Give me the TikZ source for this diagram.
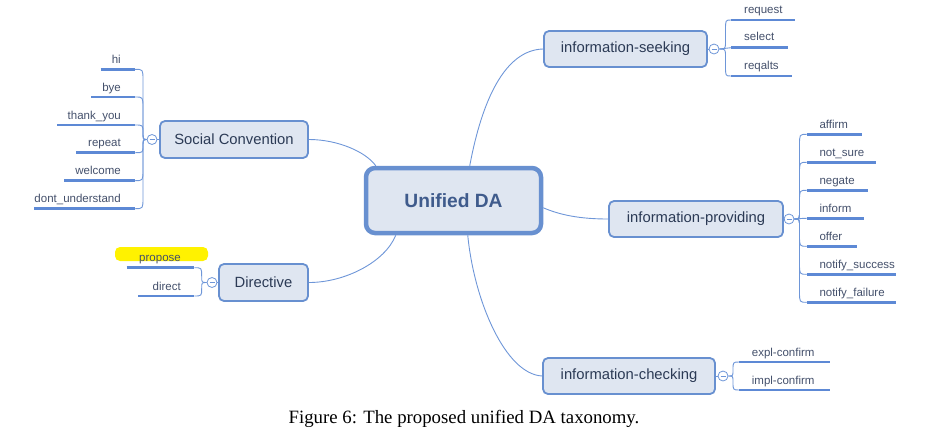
\documentclass[tikz,border=0pt]{standalone}
\usepackage{fontspec}
\setmainfont{Liberation Sans}
\newfontfamily\capfont{Liberation Serif}
\usetikzlibrary{calc}
\definecolor{boxf}{HTML}{DFE6F1}
\definecolor{boxc}{HTML}{6890D0}
\definecolor{boxt}{HTML}{2B3A55}
\definecolor{cent}{HTML}{3F5B8C}
\definecolor{edgec}{HTML}{6E96D8}
\definecolor{leafc}{HTML}{5D89D5}
\definecolor{leaft}{HTML}{44506B}
\definecolor{hlc}{HTML}{FFF200}
% bracket connector: #1 start, #2 x of vertical part, #3 y of start, #4 end, #5 y of end, #6 r1, #7 r2
\newcommand\mybrk[7]{%
  \pgfmathsetmacro\bdy{#5-#3}%
  \pgfmathtruncatemacro\bnear{abs(\bdy)<6}%
  \ifnum\bnear=1
    \draw[br] (#1) .. controls (#2,#3) and (#2,#5) .. (#4);
  \else
    \pgfmathsetmacro\bs{min(1,abs(\bdy)/(#6+#7))}%
    \pgfmathsetmacro\bya{#3+#6*\bs*sign(\bdy)}%
    \pgfmathsetmacro\byb{#5-#7*\bs*sign(\bdy)}%
    \draw[br] (#1) .. controls (#2,#3) .. (#2,\bya) -- (#2,\byb) .. controls (#2,#5) .. (#4);
  \fi}
\begin{document}
\begin{tikzpicture}[x=1pt,y=-1pt,
  box/.style={draw=boxc, fill=boxf, line width=1.8pt, rounded corners=5pt, text=boxt,
    font=\fontsize{14.8}{17}\selectfont, inner sep=0pt},
  central/.style={box, line width=4.5pt, rounded corners=9pt, text=cent,
    font=\bfseries\fontsize{19.2}{22}\selectfont},
  col/.style={circle, draw=edgec, fill=white, line width=0.8pt, minimum size=10pt, inner sep=0pt,
    path picture={\draw[edgec, line width=0.7pt] ([xshift=-2.5pt]path picture bounding box.center) -- ([xshift=2.5pt]path picture bounding box.center);}},
  lt/.style={text=leaft, font=\fontsize{11.5}{13}\selectfont, inner sep=0pt},
  ul/.style={draw=leafc, line width=2.6pt},
  edge/.style={draw=edgec, line width=0.9pt},
  br/.style={draw=edgec, line width=0.9pt},
  hl/.style={fill=hlc, rounded corners=5pt, inner sep=0pt}
]
\useasboundingbox (0,0) rectangle (948,440);

% main boxes
\node[central, minimum width=175, minimum height=65] (cen) at (453.5,200.5) {Unified DA};
\node[box, minimum width=148, minimum height=37] (soc) at (234,139.5) {Social Convention};
\node[box, minimum width=163, minimum height=36] (seek) at (625.5,49) {information-seeking};
\node[box, minimum width=174, minimum height=36] (prov) at (696,219) {information-providing};
\node[box, minimum width=172, minimum height=36] (chk) at (629,376) {information-checking};
\node[box, minimum width=89, minimum height=37] (dir) at (263.5,282.5) {Directive};

% main connectors
\coordinate (cenSoc) at ($(cen.north west)+(12,0)$);
\coordinate (cenSeek) at ($(cen.north west)+(106,0)$);
\coordinate (cenProv) at ($(cen.north east)+(0,42)$);
\coordinate (cenChk) at ($(cen.south west)+(104,0)$);
\coordinate (cenDir) at ($(cen.south west)+(32,0)$);
\draw[edge] (soc.east) .. controls (338,139.5) and (366,152) .. (cenSoc);
\draw[edge] (cenSeek) .. controls (482,100) and (505,50) .. (seek.west);
\draw[edge] (cenProv) .. controls (560,215) and (580,219) .. (prov.west);
\draw[edge] (cenChk) .. controls (474,300) and (505,374) .. (chk.west);
\draw[edge] (dir.east) .. controls (345,282.5) and (385,262) .. (cenDir);

% collapse circles
\node[col] (cs) at (152,139.5) {};
\node[col] (cq) at (714,49) {};
\node[col] (cp) at (789,219) {};
\node[col] (cc) at (723,376) {};
\node[col] (cd) at (212,282.5) {};
\draw[edge] (soc.west) -- (cs.east);
\draw[edge] (seek.east) -- (cq.west);
\draw[edge] (prov.east) -- (cp.west);
\draw[edge] (chk.east) -- (cc.west);
\draw[edge] (dir.west) -- (cd.east);

% social convention leaves
\foreach \t/\lx/\ly [count=\i] in {hi/100.7/69.3, bye/91/97, thank\_you/57/125, repeat/76/152.7, welcome/64/180.7, dont\_understand/34/208.7}{
  \node[lt, anchor=base east] (s\i) at (121,\ly-6) {\t};
  \coordinate (s\i e) at (135,\ly);
  \coordinate (s\i w) at (\lx,\ly);
  \draw[ul] (s\i w) -- (s\i e);
  \mybrk{cs.west}{143}{139.5}{s\i e}{\ly}{9}{11}
}

% information-seeking leaves
\foreach \t/\rx/\ly [count=\i] in {request/795/20, select/788/47.7, reqalts/791.7/76}{
  \node[lt, anchor=base west] (q\i) at (744,\ly-7) {\t};
  \coordinate (q\i w) at (731,\ly);
  \coordinate (q\i e) at (\rx,\ly);
  \draw[ul] (q\i w) -- (q\i e);
  \mybrk{cq.east}{725.5}{49}{q\i w}{\ly}{8}{10}
}

% information-providing leaves
\foreach \t/\rx/\ly [count=\i] in {affirm/862/134.3, not\_sure/876/162.3, negate/867.7/190.3, inform/864/218.3, offer/857/246.3, notify\_success/896/274.3, notify\_failure/896/302.3}{
  \node[lt, anchor=base west] (p\i) at (819.3,\ly-6) {\t};
  \coordinate (p\i w) at (806.7,\ly);
  \coordinate (p\i e) at (\rx,\ly);
  \draw[ul] (p\i w) -- (p\i e);
  \mybrk{cp.east}{799.5}{219}{p\i w}{\ly}{8}{11}
}

% information-checking leaves
\foreach \t/\rx/\ly [count=\i] in {expl-confirm/830/362, impl-confirm/830/390}{
  \node[lt, anchor=base west] (c\i) at (751.7,\ly-6) {\t};
  \coordinate (c\i w) at (739.3,\ly);
  \coordinate (c\i e) at (\rx,\ly);
  \draw[ul] (c\i w) -- (c\i e);
  \mybrk{cc.east}{733}{376}{c\i w}{\ly}{6}{8}
}

% directive leaves
\node[hl, minimum width=93, minimum height=14] (hlt) at (161.5,254) {};
\foreach \t/\lx/\ly [count=\i] in {propose/126.7/267.7, direct/138.3/296}{
  \node[lt, anchor=base east] (d\i) at (181,\ly-6) {\t};
  \coordinate (d\i e) at (194.3,\ly);
  \coordinate (d\i w) at (\lx,\ly);
  \draw[ul] (d\i w) -- (d\i e);
  \mybrk{cd.west}{201.7}{282.5}{d\i e}{\ly}{6}{9}
}

% caption
\node[anchor=base, inner sep=0pt, font=\capfont\fontsize{18.8}{22}\selectfont] (cap) at (464,423.7) {Figure 6: The proposed unified DA taxonomy.};
\end{tikzpicture}
\end{document}
